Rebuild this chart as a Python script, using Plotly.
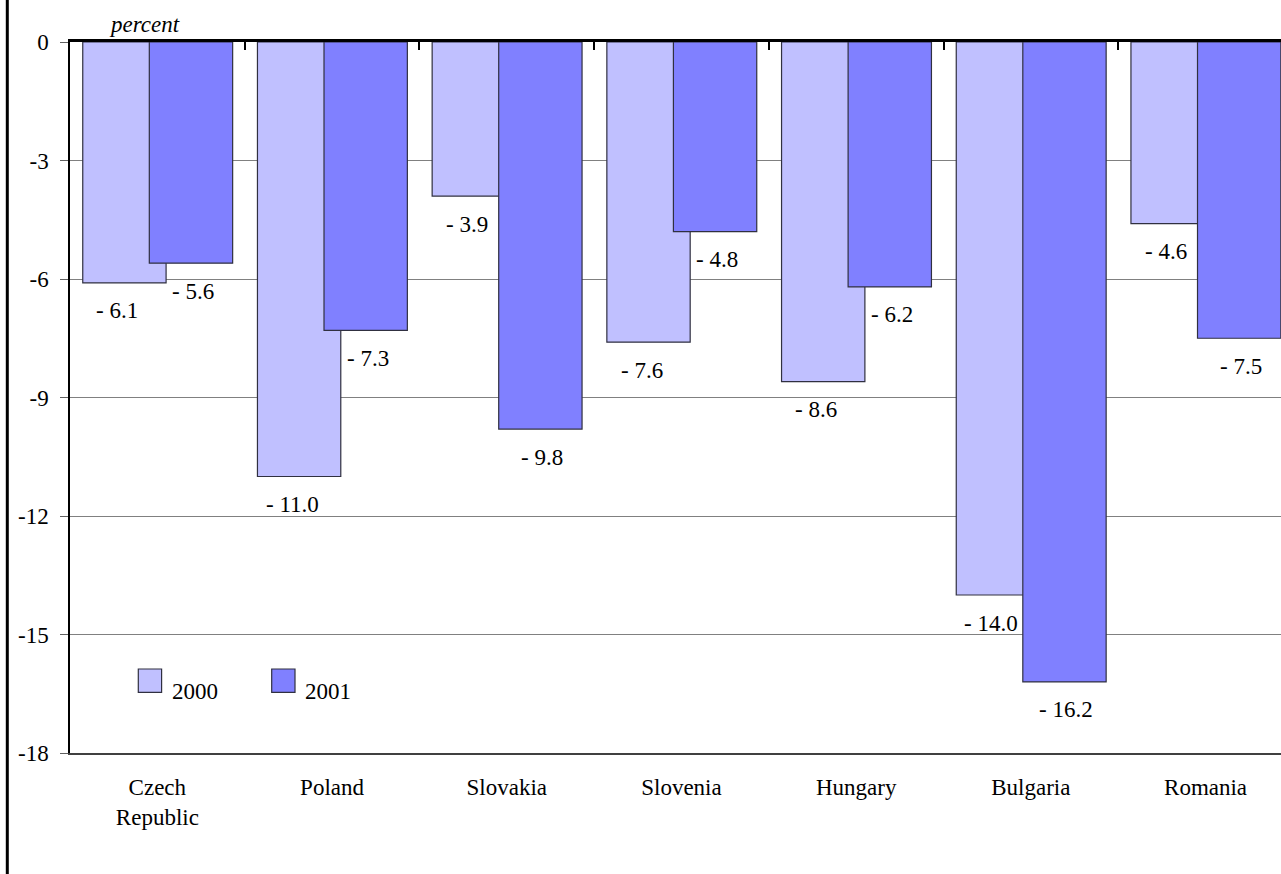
import plotly.graph_objects as go

# Data: current account balance, percent of GDP
countries = ["Czech<br>Republic", "Poland", "Slovakia", "Slovenia", "Hungary", "Bulgaria", "Romania"]
values_2000 = [-6.1, -11.0, -3.9, -7.6, -8.6, -14.0, -4.6]
values_2001 = [-5.6, -7.3, -9.8, -4.8, -6.2, -16.2, -7.5]
series_names = ["2000", "2001"]
y_ticks = [0, -3, -6, -9, -12, -15, -18]

FONT = "Liberation Serif"
FS = 23
COL_2000 = "#C0C0FF"
COL_2001 = "#8080FF"

# figure geometry (pixels)
W, H = 1281, 874
ML, MR, MT, MB = 70, 0, 42, 121
PW = W - ML - MR
PH = H - MT - MB
CAT_PX = 174.7                      # width of one category slot
x_range = [-0.5, -0.5 + PW / CAT_PX]

BAR_W = 0.477
OFF_2000 = -0.427
OFF_2001 = -0.046

xs = list(range(len(countries)))

fig = go.Figure()
# 2000 bars on the bottom category axis, 2001 bars on the top (zero-line) axis
for name, vals, col, off, xa in [
    (series_names[0], values_2000, COL_2000, OFF_2000, "x"),
    (series_names[1], values_2001, COL_2001, OFF_2001, "x2"),
]:
    fig.add_trace(go.Bar(
        x=xs, y=vals, name=name, xaxis=xa, yaxis="y",
        width=[BAR_W] * len(xs), offset=[off] * len(xs),
        marker=dict(color=col, line=dict(color="#303040", width=1.2)),
        showlegend=False,
    ))

# value labels under each bar end
label_specs = [(values_2000, OFF_2000, -7), (values_2001, OFF_2001, 2)]
for vals, off, dx in label_specs:
    for i, v in enumerate(vals):
        fig.add_annotation(
            x=i + off + BAR_W / 2, y=v, xref="x", yref="y",
            text=f"- {abs(v):.1f}", showarrow=False,
            xanchor="center", yanchor="middle",
            xshift=dx, yshift=-28,
            font=dict(family=FONT, size=FS, color="black"),
        )

def px_x(p):
    return (p - ML) / PW

def px_y(p):
    return (H - MB - p) / PH

# axis caption
fig.add_annotation(
    x=px_x(144), y=px_y(24), xref="paper", yref="paper",
    text="<i>percent</i>", showarrow=False, xanchor="center", yanchor="middle",
    font=dict(family=FONT, size=FS, color="black"),
)

# legend: swatches with labels
legend_items = [(series_names[0], COL_2000, 138.3, 170), (series_names[1], COL_2001, 271.7, 303)]
shapes = []
for name, col, sx, tx in legend_items:
    shapes.append(dict(
        type="rect", xref="paper", yref="paper",
        x0=px_x(sx), x1=px_x(sx + 23.3), y0=px_y(692.3), y1=px_y(669),
        fillcolor=col, line=dict(color="#303040", width=1.2), layer="above",
    ))
    fig.add_annotation(
        x=px_x(tx), y=px_y(691), xref="paper", yref="paper",
        text=name, showarrow=False, xanchor="left", yanchor="middle",
        font=dict(family=FONT, size=FS, color="black"),
    )

# frame line along the left edge of the page
shapes.append(dict(
    type="line", xref="paper", yref="paper",
    x0=px_x(7.3), x1=px_x(7.3), y0=px_y(H), y1=px_y(0),
    line=dict(color="black", width=3), layer="above",
))

fig.update_layout(
    width=W, height=H,
    margin=dict(l=ML, r=MR, t=MT, b=MB, pad=0),
    paper_bgcolor="white", plot_bgcolor="white",
    barmode="overlay",
    showlegend=False,
    shapes=shapes,
    font=dict(family=FONT, size=FS, color="black"),
    xaxis=dict(
        range=x_range, tickmode="array", tickvals=xs, ticktext=countries,
        showgrid=False, zeroline=False, ticks="",
        showline=True, linecolor="#404040", linewidth=1.5,
        ticklabelstandoff=13,
        tickfont=dict(family=FONT, size=FS, color="black"),
    ),
    xaxis2=dict(
        overlaying="x", side="top", anchor="y", range=x_range, matches="x",
        tickmode="array", tickvals=[i - 0.5 for i in range(len(countries) + 1)],
        ticks="inside", ticklen=8, tickwidth=2, tickcolor="black",
        showticklabels=False, showgrid=False, zeroline=False,
        showline=True, linecolor="black", linewidth=3,
    ),
    yaxis=dict(
        range=[-18, 0], tickmode="array", tickvals=y_ticks,
        ticktext=[str(t) for t in y_ticks],
        showgrid=True, gridcolor="#808080", gridwidth=1,
        zeroline=False, showline=True, linecolor="black", linewidth=1.5,
        ticks="outside", ticklen=8, tickwidth=1, tickcolor="#606060",
        ticklabelstandoff=7,
        tickfont=dict(family=FONT, size=FS, color="black"),
    ),
)

fig.write_html("out.html")
